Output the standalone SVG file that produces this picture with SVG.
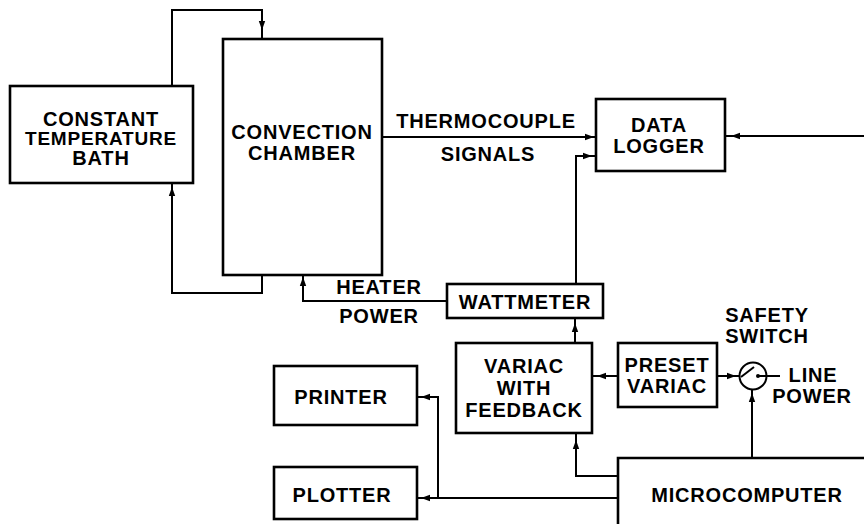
<svg xmlns="http://www.w3.org/2000/svg" xmlns:xlink="http://www.w3.org/1999/xlink" width="864" height="524" viewBox="0 0 864 524">
<style>
.box{fill:none;stroke:#000;stroke-width:2.6}
.ln{fill:none;stroke:#000;stroke-width:2}
text{font-family:"Liberation Sans",Arial,Helvetica,sans-serif;font-weight:bold;font-size:20px;letter-spacing:0.8px;text-anchor:middle;fill:#000}
</style>
<defs>
<path id="ah" d="M0,0 L-9,-3.2 L-9,3.2 Z" fill="#000"/>
</defs>
<rect width="864" height="524" fill="#fff"/>
<g id="connectors">
<path class="ln" d="M172,86 V10 H262 V39"/>
<path class="ln" d="M262,275 V293 H172 V183"/>
<path class="ln" d="M303,275 V301 H447"/>
<path class="ln" d="M382,137 H596"/>
<path class="ln" d="M576,284 V156 H596"/>
<path class="ln" d="M864,136 H725"/>
<path class="ln" d="M575,343 V318"/>
<path class="ln" d="M592,376 H618"/>
<path class="ln" d="M717,376 H740"/>
<path class="ln" d="M752,458 V390"/>
<path class="ln" d="M618,476 H576 V433"/>
<path class="ln" d="M417,397 H438 V498"/>
<path class="ln" d="M618,498 H417"/>
<use xlink:href="#ah" transform="translate(262,30) rotate(90)"/>
<use xlink:href="#ah" transform="translate(172,187) rotate(-90)"/>
<use xlink:href="#ah" transform="translate(303,277) rotate(-90)"/>
<use xlink:href="#ah" transform="translate(594,137)"/>
<use xlink:href="#ah" transform="translate(592,156)"/>
<use xlink:href="#ah" transform="translate(731,136) rotate(180)"/>
<use xlink:href="#ah" transform="translate(575,323) rotate(-90)"/>
<use xlink:href="#ah" transform="translate(597,376) rotate(180)"/>
<use xlink:href="#ah" transform="translate(736,376)"/>
<use xlink:href="#ah" transform="translate(752,393) rotate(-90)"/>
<use xlink:href="#ah" transform="translate(576,440) rotate(-90)"/>
<use xlink:href="#ah" transform="translate(421,397) rotate(180)"/>
<use xlink:href="#ah" transform="translate(421,498) rotate(180)"/>
</g>
<g id="bath">
<rect class="box" x="10" y="86" width="183" height="97"/>
<text x="101" y="126">CONSTANT</text>
<text x="101" y="145" style="font-size:19px">TEMPERATURE</text>
<text x="101" y="165">BATH</text>
</g>
<g id="chamber">
<rect class="box" x="223" y="39" width="159" height="236"/>
<text x="302" y="139">CONVECTION</text>
<text x="302" y="160">CHAMBER</text>
</g>
<g id="thermocouple-label">
<text x="486" y="128">THERMOCOUPLE</text>
<text x="488" y="161">SIGNALS</text>
</g>
<g id="datalogger">
<rect class="box" x="596" y="99" width="129" height="72"/>
<text x="659" y="132">DATA</text>
<text x="659" y="153">LOGGER</text>
</g>
<g id="heater-label">
<text x="379" y="294">HEATER</text>
<text x="379" y="323">POWER</text>
</g>
<g id="wattmeter">
<rect class="box" x="447" y="284" width="156" height="34"/>
<text x="525" y="309">WATTMETER</text>
</g>
<g id="variac">
<rect class="box" x="456" y="343" width="136" height="90"/>
<text x="524" y="373">VARIAC</text>
<text x="524" y="395">WITH</text>
<text x="524" y="417">FEEDBACK</text>
</g>
<g id="preset">
<rect class="box" x="618" y="343" width="99" height="64"/>
<text x="667" y="372">PRESET</text>
<text x="667" y="393">VARIAC</text>
</g>
<g id="switch">
<circle cx="753" cy="376" r="13.5" fill="none" stroke="#000" stroke-width="2"/>
<path class="ln" d="M741,377 L754,367"/>
<circle cx="758" cy="376" r="2" fill="#000"/>
<path class="ln" d="M758,376 H780"/>
<text x="767" y="322">SAFETY</text>
<text x="767" y="343">SWITCH</text>
</g>
<g id="linepower">
<text x="813" y="382">LINE</text>
<text x="812" y="403">POWER</text>
</g>
<g id="printer">
<rect class="box" x="274" y="366" width="143" height="59"/>
<text x="341" y="404">PRINTER</text>
</g>
<g id="plotter">
<rect class="box" x="274" y="467" width="143" height="52"/>
<text x="342" y="502">PLOTTER</text>
</g>
<g id="microcomputer">
<path class="box" d="M618,524 V458 H864"/>
<text x="747" y="502">MICROCOMPUTER</text>
</g>
</svg>
